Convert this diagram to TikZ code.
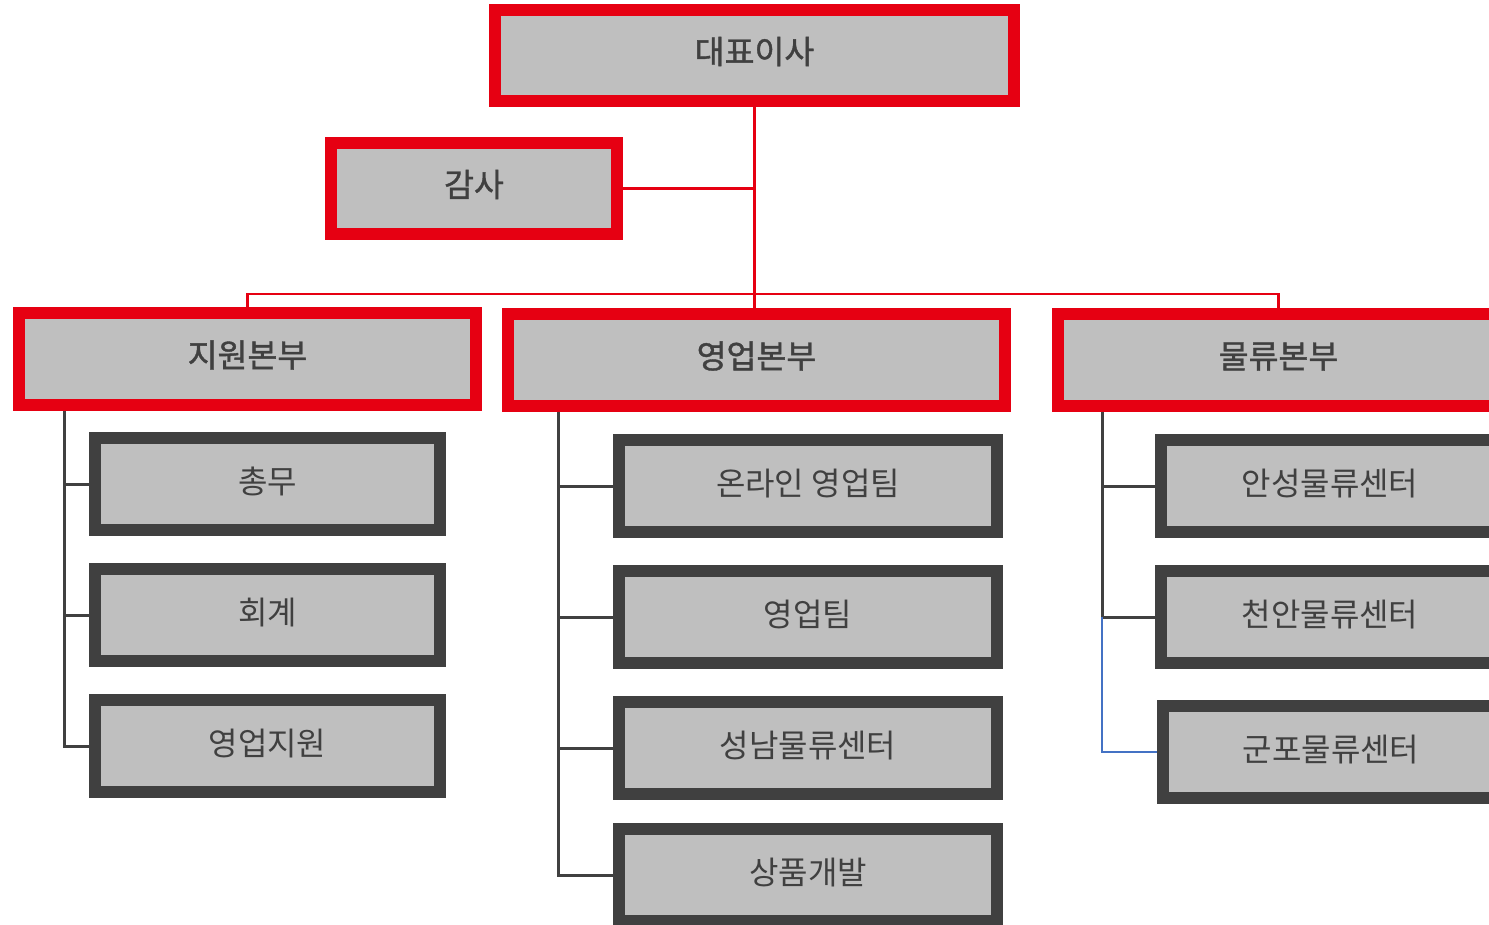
\documentclass[tikz,border=0pt]{standalone}
\usepackage{fontspec}
\newfontfamily\kr{Noto Sans CJK KR}
\newfontfamily\krb[FakeBold=1.2]{Noto Sans CJK KR}
\usetikzlibrary{backgrounds}
\definecolor{redc}{HTML}{E60012}
\definecolor{darkc}{HTML}{404040}
\definecolor{fillc}{HTML}{BFBFBF}
\definecolor{bluec}{HTML}{4472C4}
\tikzset{
  redbox/.style={draw=redc, line width=12pt, fill=fillc, inner sep=0pt,
    text=darkc, font=\krb\fontsize{32.5}{36}\selectfont, minimum height=92pt,
    text height=21pt, text depth=4.6pt},
  darkbox/.style={draw=darkc, line width=12pt, fill=fillc, inner sep=0pt,
    text=darkc, font=\kr\fontsize{32}{36}\selectfont, minimum height=92pt,
    text height=22pt, text depth=3.6pt},
  redline/.style={draw=redc, line width=2.6pt},
  grayline/.style={draw=darkc, line width=3pt},
  blueline/.style={draw=bluec, line width=2.6pt}
}
\begin{document}
\begin{tikzpicture}[x=1pt, y=-1pt]
\useasboundingbox (0,0) rectangle (1489,925);
\clip (0,0) rectangle (1489,925);

% top level
\node[redbox, minimum width=519pt, minimum height=91pt] (ceo) at (754.5,55.5) {대표이사};
\node[redbox, minimum width=286pt, minimum height=91pt] (audit) at (474,188.5) {감사};

% divisions
\node[redbox, minimum width=457pt] (d1) at (247.5,359) {지원본부};
\node[redbox, minimum width=497pt] (d2) at (756.5,360) {영업본부};
\node[redbox, minimum width=441pt] (d3) at (1278.5,360) {물류본부};

% teams of 지원본부
\node[darkbox, minimum width=345pt] (a1) at (267.5,484) {총무};
\node[darkbox, minimum width=345pt] (a2) at (267.5,615) {회계};
\node[darkbox, minimum width=345pt] (a3) at (267.5,746) {영업지원};

% teams of 영업본부
\node[darkbox, minimum width=378pt] (b1) at (808,486) {온라인 영업팀};
\node[darkbox, minimum width=378pt] (b2) at (808,617) {영업팀};
\node[darkbox, minimum width=378pt] (b3) at (808,748) {성남물류센터};
\node[darkbox, minimum width=378pt] (b4) at (808,875) {상품개발};

% teams of 물류본부
\node[darkbox, minimum width=338pt] (c1) at (1330,486) {안성물류센터};
\node[darkbox, minimum width=338pt] (c2) at (1330,617) {천안물류센터};
\node[darkbox, minimum width=336pt] (c3) at (1331,752) {군포물류센터};

\coordinate (bus) at (755,294);
\coordinate (s1) at (64,411);
\coordinate (s2) at (558,412);
\coordinate (s3) at (1102,412);

\begin{scope}[on background layer]
  \draw[redline] (ceo.south) -- (ceo.south |- d2.north);
  \draw[redline] (audit.east) -- (audit.east -| ceo.south);
  \draw[redline] (d1.north) |- (d3.north |- bus) -- (d3.north);
  \draw[grayline] (s1) |- (a1.west);
  \draw[grayline] (s1) |- (a2.west);
  \draw[grayline] (s1) |- (a3.west);
  \draw[grayline] (s2) |- (b1.west);
  \draw[grayline] (s2) |- (b2.west);
  \draw[grayline] (s2) |- (b3.west);
  \draw[grayline] (s2) |- (b4.west);
  \draw[grayline] (s3) |- (c1.west);
  \draw[grayline] (s3) |- (c2.west);
  \draw[blueline] (c2.west -| s3) |- (c3.west);
\end{scope}
\end{tikzpicture}
\end{document}
